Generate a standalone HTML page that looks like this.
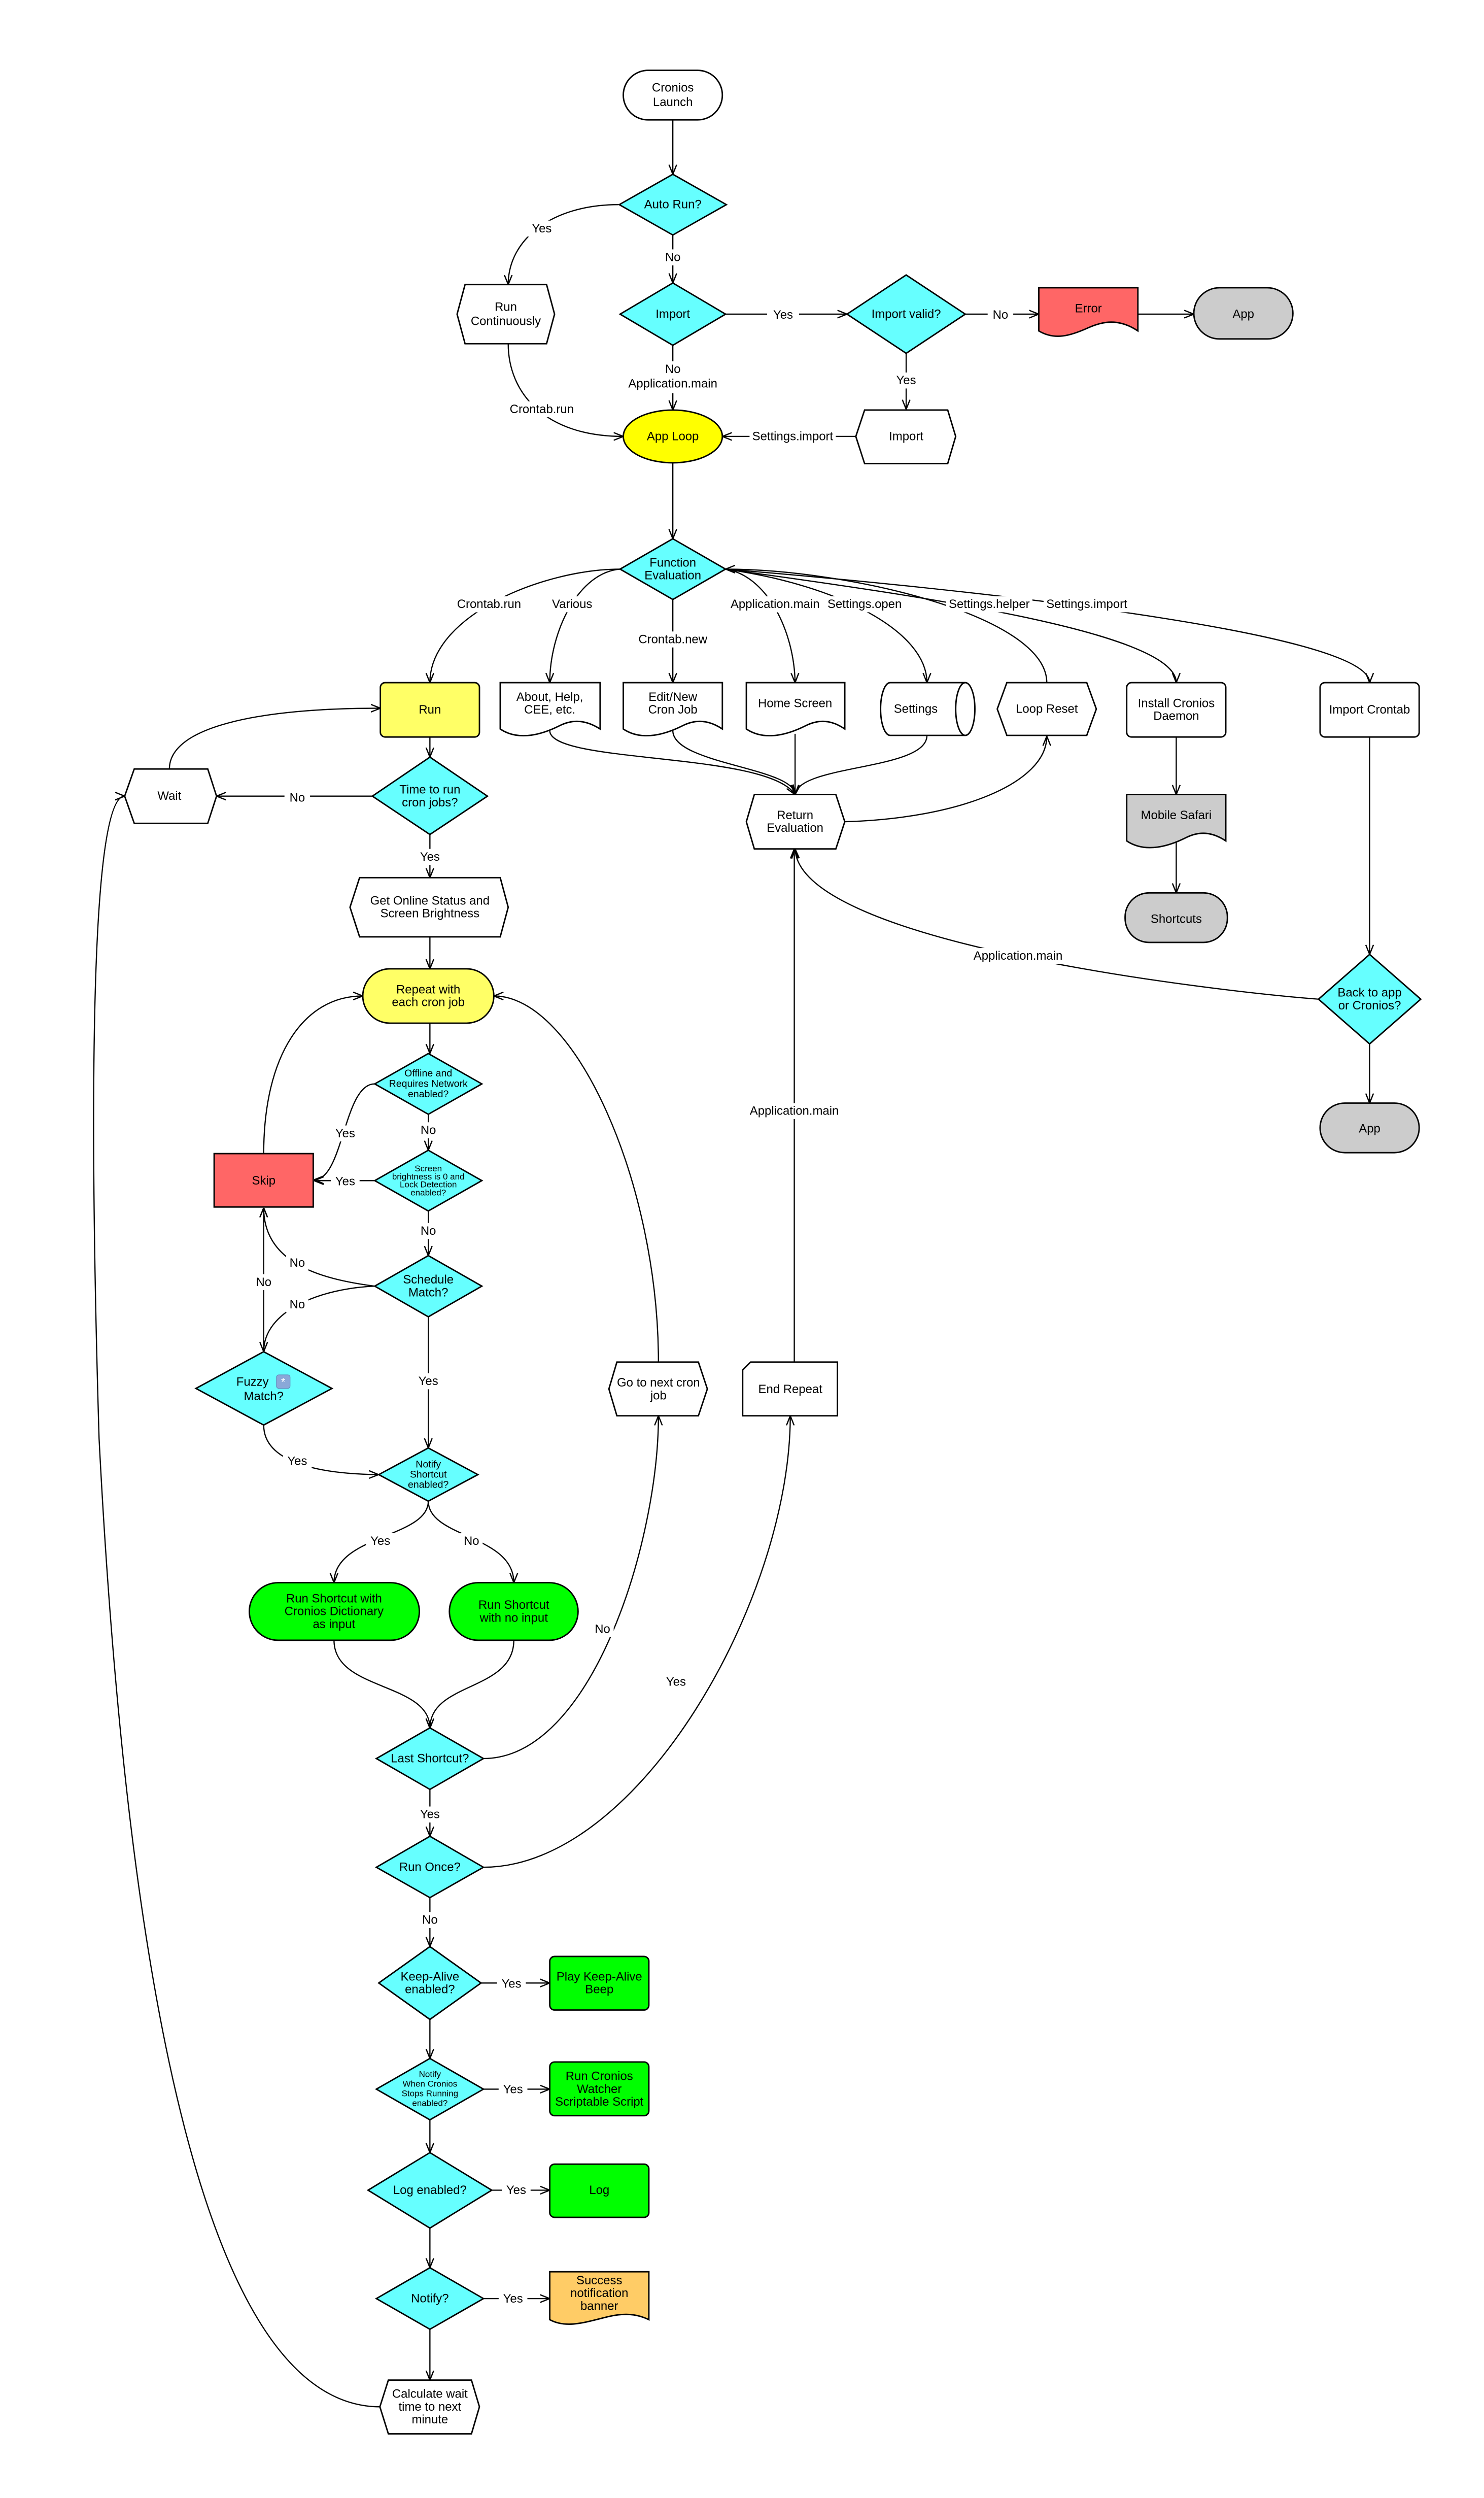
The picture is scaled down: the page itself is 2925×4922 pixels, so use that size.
<!DOCTYPE html>
<html><head><meta charset="utf-8"><style>
html,body{margin:0;padding:0;background:#fff;}
svg{display:block;}
text{font-family:"Liberation Sans",Arial,sans-serif;font-size:7.6px;fill:#000;text-anchor:middle;dominant-baseline:central;}
.s{font-size:5.4px;}
.sh{stroke:#000;stroke-width:0.9;}
.e{fill:none;stroke:#000;stroke-width:0.75;}
.lb{fill:#fff;stroke:none;}
</style></head><body>
<svg width="2925" height="4922" viewBox="0 0 928.57 1562.54" xmlns="http://www.w3.org/2000/svg">
<defs>
<marker id="a" viewBox="0 0 10 10" refX="10" refY="5" markerWidth="6" markerHeight="6" orient="auto" markerUnits="userSpaceOnUse">
<path d="M0,1 L10,5 L0,9" fill="none" stroke="#000" stroke-width="1.3"/>
</marker>
</defs>
<rect width="928.57" height="1562.54" fill="#fff"/>

<!-- ========== EDGES ========== -->
<g class="e" marker-end="url(#a)">
<path d="M421,75 V109"/>
<path d="M421,147 V177"/>
<path d="M387,128 C345,128 318,150 318,178"/>
<path d="M454,196.5 H530"/>
<path d="M604,196.5 H650"/>
<path d="M712,196.5 H747"/>
<path d="M421,216 V256.5"/>
<path d="M567,221 V256"/>
<path d="M535.5,273 H452"/>
<path d="M318,215 C318,245 340,273 390,273"/>
<path d="M421,289.5 V337"/>
<!-- function evaluation fanout -->
<path d="M388,356 C340,356 269,385 269,427"/>
<path d="M388,356 C362,358 344,395 344,427"/>
<path d="M421,375 V427"/>
<path d="M454,356 C480,360 497,395 497.5,427"/>
<path d="M454,356 C525,366 580,395 580,427"/>
<path d="M655,427 C655,385 530,356 454,356"/>
<path d="M454,356 C570,372 736,395 736,427"/>
<path d="M454,356 C600,368 857,395 857,427"/>
<!-- into return evaluation -->
<path d="M344,457 C344,478 480,470 497.5,497"/>
<path d="M421,457 C421,478 497,480 497.5,497"/>
<path d="M497.5,459 V497"/>
<path d="M580,460 C580,482 500,478 497.5,497"/>
<path d="M528.6,514 C600,512 655,490 655,460.5"/>
<path d="M736,461 V497"/>
<path d="M736,527 V558.5"/>
<path d="M857,461 V597"/>
<path d="M857,653 V690"/>
<path d="M825,625 C760,620 500,590 497.5,531"/>
<path d="M497,852 V531"/>
<!-- left column -->
<path d="M269,461 V473.6"/>
<path d="M233,498 H135.5"/>
<path d="M106,481 C106,455 160,443 238,443"/>
<path d="M269,522 V549"/>
<path d="M269,586 V606"/>
<path d="M269,640 V659"/>
<path d="M234.4,678 C215,678 215,738 196.5,738"/>
<path d="M268,697 V719.5"/>
<path d="M234.4,738.5 H196.5"/>
<path d="M268,757.4 V785.4"/>
<path d="M234.4,804.5 C200,800 165,790 165,755.5"/>
<path d="M234.4,804.5 C200,806 165,820 165,845.5"/>
<path d="M165,845.5 V755.5"/>
<path d="M165,721.6 C165,660 190,623 227,623"/>
<path d="M268,823.7 V905.7"/>
<path d="M165,891.4 C165,915 200,922 236.9,922.4"/>
<path d="M268,939 C268,962 209,960 209,990"/>
<path d="M268,939 C268,962 321.5,960 321.5,990"/>
<path d="M209,1026 C209,1058 269,1052 269,1081"/>
<path d="M321.5,1026 C321.5,1058 269,1052 269,1081"/>
<path d="M302.5,1100 C370,1100 412,965 412,885.6"/>
<path d="M412,852 C412,740 360,623 309,623"/>
<path d="M269,1119.3 V1148.6"/>
<path d="M302.5,1168 C400,1168 494.5,1000 494.5,885.6"/>
<path d="M269,1187 V1217.6"/>
<path d="M301,1240.4 H344"/>
<path d="M269,1263.2 V1287.6"/>
<path d="M302.5,1306.8 H344"/>
<path d="M269,1326 V1346.5"/>
<path d="M307.7,1370 H344"/>
<path d="M269,1393.7 V1418.5"/>
<path d="M302.5,1437.8 H344"/>
<path d="M269,1457 V1488.8"/>
<path d="M237.7,1505.5 C130,1505 80,1250 62,900 C56,700 56,498 78,498"/>
</g>

<!-- ========== NODES ========== -->
<g class="sh">
<rect x="390" y="44" width="62" height="31" rx="15.5" fill="#fff"/>
<polygon points="421,109 454.5,128 421,147 387.5,128" fill="#66ffff"/>
<polygon points="421,177 454,196.5 421,216 388,196.5" fill="#66ffff"/>
<polygon points="567,172 604,196.5 567,221 530,196.5" fill="#66ffff"/>
<path d="M650,180 H712 V207 C700,199 690,201 681,205 C670,210 660,213 650,207 Z" fill="#ff6666"/>
<rect x="747" y="180" width="62" height="32" rx="16" fill="#cccccc"/>
<polygon points="291,178 342,178 347,196.5 342,215 291,215 286,196.5" fill="#fff"/>
<ellipse cx="421" cy="273" rx="31" ry="16.5" fill="#ffff00"/>
<polygon points="541,256.5 593,256.5 598,273 593,290 541,290 535.5,273" fill="#fff"/>
<polygon points="421,337 454,356 421,375 388,356" fill="#66ffff"/>

<rect x="238" y="427" width="62" height="34" rx="3" fill="#ffff66"/>
<path d="M313,427 H375.5 V456 C366,450 358,450 350,454 C340,459 325,464 313,456 Z" fill="#fff"/>
<path d="M390,427 H452 V456 C443,450 435,450 427,454 C417,459 402,464 390,456 Z" fill="#fff"/>
<path d="M467,427 H528.6 V456 C520,450 512,450 504,454 C494,459 479,464 467,456 Z" fill="#fff"/>
<path d="M557,427 H604 A6,16.5 0 0 1 604,460 H557 A6,16.5 0 0 1 557,427 Z" fill="#fff"/>
<path d="M604,427 A6,16.5 0 0 0 604,460" fill="none"/>
<polygon points="630,427 680,427 686,443.5 680,460 630,460 624,443.5" fill="#fff"/>
<rect x="705" y="427" width="62" height="34" rx="3" fill="#fff"/>
<rect x="826" y="427" width="62" height="34" rx="3" fill="#fff"/>

<polygon points="84,481 130,481 135.5,498 130,515 84,515 78,498" fill="#fff"/>
<polygon points="269,473.6 305,498 269,522 233,498" fill="#66ffff"/>
<polygon points="472,497 523,497 528.6,514 523,531 472,531 467,514" fill="#fff"/>
<path d="M705,497 H767 V526 C758,520 750,520 742,524 C732,529 717,534 705,526 Z" fill="#cccccc"/>
<rect x="704" y="558.5" width="64" height="31" rx="15" fill="#cccccc"/>
<polygon points="857,597 889,625 857,653 825,625" fill="#66ffff"/>
<rect x="826" y="690" width="62" height="31" rx="15.5" fill="#cccccc"/>

<polygon points="225,549 313,549 318,567.5 313,586 225,586 219,567.5" fill="#fff"/>
<rect x="227" y="606" width="82" height="34" rx="17" fill="#ffff66"/>
<polygon points="268,659 301.5,678 268,697 234.5,678" fill="#66ffff"/>
<rect x="134" y="721.6" width="62" height="33.4" fill="#ff6666"/>
<polygon points="268,719.5 301.5,738.5 268,757.5 234.5,738.5" fill="#66ffff"/>
<polygon points="268,785.4 301.5,804.5 268,823.7 234.5,804.5" fill="#66ffff"/>
<polygon points="165,845.5 207.7,868.5 165,891.4 122.6,868.5" fill="#66ffff"/>
<polygon points="268,905.7 299,922.4 268,939 237,922.4" fill="#66ffff"/>
<rect x="156" y="990" width="106.4" height="36" rx="18" fill="#00ff00"/>
<rect x="281.2" y="990" width="80.5" height="36" rx="18" fill="#00ff00"/>
<polygon points="386,852 437,852 442.6,868.8 437,885.6 386,885.6 381,868.8" fill="#fff"/>
<path d="M469.7,852 H524 V885.6 H464.7 V857 Z" fill="#fff"/>

<polygon points="269,1080.8 302.5,1100 269,1119.3 235.5,1100" fill="#66ffff"/>
<polygon points="269,1148.6 302.5,1168 269,1187 235.5,1168" fill="#66ffff"/>
<polygon points="269,1217.6 301,1240.4 269,1263.2 237,1240.4" fill="#66ffff"/>
<rect x="344" y="1223.8" width="62" height="33.5" rx="3" fill="#00ff00"/>
<polygon points="269,1287.6 302.5,1306.8 269,1326 235.5,1306.8" fill="#66ffff"/>
<rect x="344" y="1289.8" width="62" height="33.6" rx="3" fill="#00ff00"/>
<polygon points="269,1346.5 307.7,1370 269,1393.7 230.3,1370" fill="#66ffff"/>
<rect x="344" y="1353.7" width="62" height="33.3" rx="3" fill="#00ff00"/>
<polygon points="269,1418.5 302.5,1437.8 269,1457 235.5,1437.8" fill="#66ffff"/>
<path d="M344,1421 H406 V1451 C398,1447 390,1447 381,1449 C368,1452 355,1457 344,1451 Z" fill="#ffcc66"/>
<polygon points="243,1488.8 295,1488.8 300,1505.5 295,1522.4 243,1522.4 237.7,1505.5" fill="#fff"/>
</g>

<!-- ========== EDGE LABELS ========== -->
<g>
<rect class="lb" x="329" y="138" width="20" height="10"/><text x="339" y="143">Yes</text>
<rect class="lb" x="413" y="156" width="16" height="10"/><text x="421" y="161">No</text>
<rect class="lb" x="480" y="192" width="20" height="10"/><text x="490" y="197">Yes</text>
<rect class="lb" x="618" y="192" width="16" height="10"/><text x="626" y="197">No</text>
<rect class="lb" x="390" y="226" width="62" height="20"/><text x="421" y="231">No</text><text x="421" y="240">Application.main</text>
<rect class="lb" x="557" y="233" width="20" height="10"/><text x="567" y="238">Yes</text>
<rect class="lb" x="314" y="251" width="50" height="10"/><text x="339" y="256">Crontab.run</text>
<rect class="lb" x="469" y="268" width="54" height="10"/><text x="496" y="273">Settings.import</text>
<rect class="lb" x="282" y="373" width="48" height="10"/><text x="306" y="378">Crontab.run</text>
<rect class="lb" x="343" y="373" width="30" height="10"/><text x="358" y="378">Various</text>
<rect class="lb" x="397" y="395" width="48" height="10"/><text x="421" y="400">Crontab.new</text>
<rect class="lb" x="456" y="373" width="58" height="10"/><text x="485" y="378">Application.main</text>
<rect class="lb" x="516" y="373" width="50" height="10"/><text x="541" y="378">Settings.open</text>
<rect class="lb" x="592" y="373" width="54" height="10"/><text x="619" y="378">Settings.helper</text>
<rect class="lb" x="653" y="373" width="54" height="10"/><text x="680" y="378">Settings.import</text>
<rect class="lb" x="178" y="494" width="16" height="10"/><text x="186" y="499">No</text>
<rect class="lb" x="259" y="531" width="20" height="10"/><text x="269" y="536">Yes</text>
<rect class="lb" x="607" y="593" width="60" height="10"/><text x="637" y="598">Application.main</text>
<rect class="lb" x="467" y="690" width="60" height="10"/><text x="497" y="695">Application.main</text>
<rect class="lb" x="207" y="704" width="18" height="10"/><text x="216" y="709">Yes</text>
<rect class="lb" x="261" y="702" width="14" height="10"/><text x="268" y="707">No</text>
<rect class="lb" x="207" y="734" width="18" height="10"/><text x="216" y="739">Yes</text>
<rect class="lb" x="261" y="765" width="14" height="10"/><text x="268" y="770">No</text>
<rect class="lb" x="179" y="785" width="14" height="10"/><text x="186" y="790">No</text>
<rect class="lb" x="158" y="797" width="14" height="10"/><text x="165" y="802">No</text>
<rect class="lb" x="179" y="811" width="14" height="10"/><text x="186" y="816">No</text>
<rect class="lb" x="259" y="859" width="18" height="10"/><text x="268" y="864">Yes</text>
<rect class="lb" x="177" y="909" width="18" height="10"/><text x="186" y="914">Yes</text>
<rect class="lb" x="229" y="959" width="18" height="10"/><text x="238" y="964">Yes</text>
<rect class="lb" x="288" y="959" width="14" height="10"/><text x="295" y="964">No</text>
<rect class="lb" x="370" y="1014" width="14" height="10"/><text x="377" y="1019">No</text>
<rect class="lb" x="414" y="1047" width="18" height="10"/><text x="423" y="1052">Yes</text>
<rect class="lb" x="260" y="1130" width="18" height="10"/><text x="269" y="1135">Yes</text>
<rect class="lb" x="262" y="1196" width="14" height="10"/><text x="269" y="1201">No</text>
<rect class="lb" x="311" y="1236" width="18" height="10"/><text x="320" y="1241">Yes</text>
<rect class="lb" x="312" y="1302" width="18" height="10"/><text x="321" y="1307">Yes</text>
<rect class="lb" x="314" y="1365" width="18" height="10"/><text x="323" y="1370">Yes</text>
<rect class="lb" x="312" y="1433" width="18" height="10"/><text x="321" y="1438">Yes</text>
</g>

<!-- ========== NODE LABELS ========== -->
<g>
<text x="421" y="55">Cronios</text><text x="421" y="64">Launch</text>
<text x="421" y="128">Auto Run?</text>
<text x="421" y="196.5">Import</text>
<text x="567" y="196.5">Import valid?</text>
<text x="681" y="193">Error</text>
<text x="778" y="196.5">App</text>
<text x="316.5" y="192">Run</text><text x="316.5" y="201">Continuously</text>
<text x="421" y="273">App Loop</text>
<text x="567" y="273">Import</text>
<text x="421" y="352">Function</text><text x="421" y="360">Evaluation</text>
<text x="269" y="444">Run</text>
<text x="344" y="436">About, Help,</text><text x="344" y="444">CEE, etc.</text>
<text x="421" y="436">Edit/New</text><text x="421" y="444">Cron Job</text>
<text x="497.5" y="440">Home Screen</text>
<text x="573" y="443.5">Settings</text>
<text x="655" y="443.5">Loop Reset</text>
<text x="736" y="440">Install Cronios</text><text x="736" y="448">Daemon</text>
<text x="857" y="444">Import Crontab</text>
<text x="106" y="498">Wait</text>
<text x="269" y="494">Time to run</text><text x="269" y="502">cron jobs?</text>
<text x="497.5" y="510">Return</text><text x="497.5" y="518">Evaluation</text>
<text x="736" y="510">Mobile Safari</text>
<text x="736" y="575">Shortcuts</text>
<text x="857" y="621">Back to app</text><text x="857" y="629">or Cronios?</text>
<text x="857" y="706">App</text>
<text x="269" y="563.5">Get Online Status and</text><text x="269" y="571.5">Screen Brightness</text>
<text x="268" y="619">Repeat with</text><text x="268" y="627">each cron job</text>
<text class="s" x="268" y="671.5" style="font-size:6.2px">Offline and</text><text x="268" y="678" style="font-size:6.2px">Requires Network</text><text x="268" y="684.5" style="font-size:6.2px">enabled?</text>
<text x="165" y="738.5">Skip</text>
<text class="s" x="268" y="731">Screen</text><text class="s" x="268" y="736">brightness is 0 and</text><text class="s" x="268" y="741">Lock Detection</text><text class="s" x="268" y="746">enabled?</text>
<text x="268" y="800.5">Schedule</text><text x="268" y="808.5">Match?</text>
<text x="158" y="864.5">Fuzzy</text>
<rect x="173" y="860" width="8.5" height="8.5" rx="1.5" fill="#8aa8d8" stroke="#6688bb" stroke-width="0.4"/><text x="177.2" y="864.5" style="fill:#fff;font-size:7px">*</text>
<text x="165" y="873.5">Match?</text>
<text class="s" x="268" y="916" style="font-size:6.2px">Notify</text><text x="268" y="922.4" style="font-size:6.2px">Shortcut</text><text x="268" y="928.8" style="font-size:6.2px">enabled?</text>
<text x="209" y="1000">Run Shortcut with</text><text x="209" y="1008">Cronios Dictionary</text><text x="209" y="1016">as input</text>
<text x="321.5" y="1004">Run Shortcut</text><text x="321.5" y="1012">with no input</text>
<text x="412" y="865">Go to next cron</text><text x="412" y="873">job</text>
<text x="494.5" y="869">End Repeat</text>
<text x="269" y="1100">Last Shortcut?</text>
<text x="269" y="1168">Run Once?</text>
<text x="269" y="1236.5">Keep-Alive</text><text x="269" y="1244.5">enabled?</text>
<text x="375" y="1236.5">Play Keep-Alive</text><text x="375" y="1244.5">Beep</text>
<text class="s" x="269" y="1297.5">Notify</text><text class="s" x="269" y="1303.5">When Cronios</text><text class="s" x="269" y="1309.5">Stops Running</text><text class="s" x="269" y="1315.5">enabled?</text>
<text x="375" y="1298.8">Run Cronios</text><text x="375" y="1306.8">Watcher</text><text x="375" y="1314.8">Scriptable Script</text>
<text x="269" y="1370">Log enabled?</text>
<text x="375" y="1370">Log</text>
<text x="269" y="1437.8">Notify?</text>
<text x="375" y="1426.5">Success</text><text x="375" y="1434.5">notification</text><text x="375" y="1442.5">banner</text>
<text x="269" y="1497.5">Calculate wait</text><text x="269" y="1505.5">time to next</text><text x="269" y="1513.5">minute</text>
</g>
</svg>
</body></html>
